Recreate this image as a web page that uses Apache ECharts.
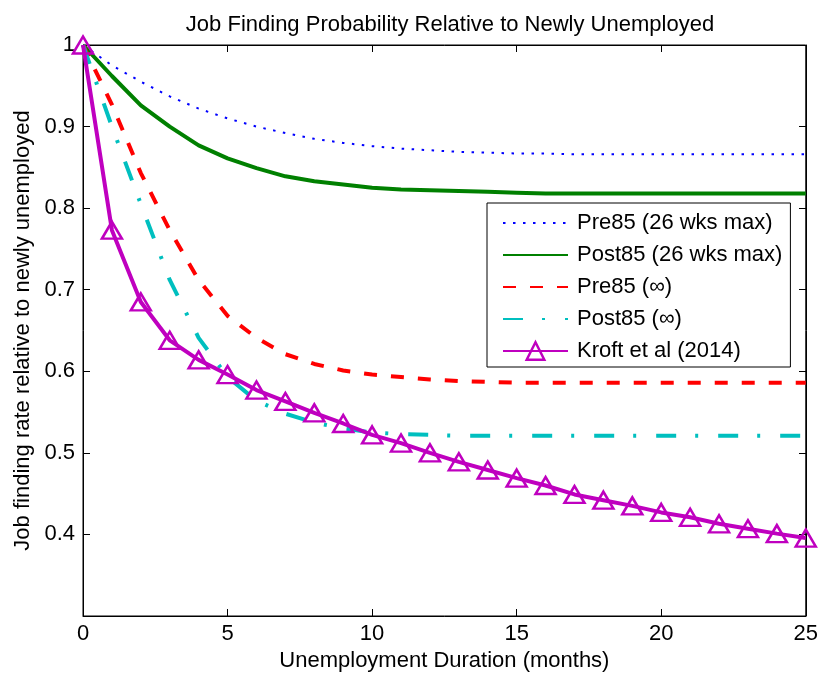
<!DOCTYPE html>
<html>
<head>
<meta charset="utf-8">
<script src="https://cdn.jsdelivr.net/npm/echarts@6/dist/echarts.min.js"></script>
<style>html,body{margin:0;padding:0;background:#fff}#c{width:821px;height:677px}</style>
</head>
<body>
<div id="c"></div>
<script>
const months = [0,1,2,3,4,5,6,7,8,9,10,11,12,13,14,15,16,17,18,19,20,21,22,23,24,25];
const pre85_26wks = [1.000,0.975,0.955,0.937,0.922,0.910,0.900,0.892,0.885,0.880,0.876,0.873,0.871,0.869,0.868,0.867,0.867,0.866,0.866,0.866,0.866,0.866,0.866,0.866,0.866,0.866];
const post85_26wks = [1.000,0.962,0.926,0.900,0.877,0.861,0.849,0.839,0.833,0.829,0.825,0.823,0.822,0.821,0.820,0.819,0.818,0.818,0.818,0.818,0.818,0.818,0.818,0.818,0.818,0.818];
const pre85_inf = [1.000,0.927,0.843,0.773,0.712,0.668,0.641,0.621,0.609,0.601,0.596,0.593,0.590,0.588,0.587,0.586,0.586,0.586,0.586,0.586,0.586,0.586,0.586,0.586,0.586,0.586];
const post85_inf = [1.000,0.900,0.805,0.712,0.641,0.593,0.564,0.548,0.537,0.530,0.525,0.523,0.522,0.521,0.521,0.521,0.521,0.521,0.521,0.521,0.521,0.521,0.521,0.521,0.521,0.521];
const kroft2014 = [1.000,0.773,0.685,0.638,0.614,0.596,0.577,0.563,0.549,0.536,0.522,0.512,0.500,0.489,0.479,0.469,0.460,0.449,0.442,0.435,0.427,0.421,0.413,0.407,0.401,0.3955];
const seriesNames = ['Pre85 (26 wks max)','Post85 (26 wks max)','Pre85 (\u221e)','Post85 (\u221e)','Kroft et al (2014)'];
const xTicks = [0,5,10,15,20,25];
const yTicks = [0.4,0.5,0.6,0.7,0.8,0.9,1];

const FONT = 'Liberation Sans';
const FS = 22;
const GRID = {left:83, right:15, top:45, bottom:61};
const pairs = arr => months.map((m,i)=>[m,arr[i]]);

const chart = echarts.init(document.getElementById('c'), null, {renderer:'canvas'});
const plotW = 821 - GRID.left - GRID.right;
const baseX = {type:'value', min:0, max:25, interval:5, splitLine:{show:false}};
const baseY = {type:'value', min:0.3, max:1, interval:0.1, splitLine:{show:false}};
const line = {show:true, lineStyle:{color:'#000', width:1}};
chart.setOption({
  animation:false,
  backgroundColor:'#fff',
  title:{text:'Job Finding Probability Relative to Newly Unemployed', left:445, top:9, textAlign:'center',
    textStyle:{fontFamily:FONT, fontSize:FS, fontWeight:'normal', color:'#000'}},
  grid:Object.assign({show:true, borderColor:'#000', borderWidth:1}, GRID),
  xAxis:[
    Object.assign({}, baseX, {position:'bottom', name:'Unemployment Duration (months)', nameLocation:'middle', nameGap:33,
      nameTextStyle:{fontFamily:FONT, fontSize:FS, color:'#000'},
      axisLine:line,
      axisTick:{show:true, inside:true, length:7, lineStyle:{color:'#000', width:1}},
      axisLabel:{fontFamily:FONT, fontSize:FS, color:'#000', margin:7,
        formatter:v=>xTicks.includes(v)?String(v):''}}),
    Object.assign({}, baseX, {position:'top',
      axisLine:line,
      axisTick:{show:true, inside:true, length:7, lineStyle:{color:'#000', width:1}},
      axisLabel:{show:false}})
  ],
  yAxis:[
    Object.assign({}, baseY, {position:'left', name:'Job finding rate relative to newly unemployed', nameLocation:'middle', nameGap:45,
      nameTextStyle:{fontFamily:FONT, fontSize:FS, color:'#000'},
      axisLine:line,
      axisTick:{show:true, inside:true, length:7, lineStyle:{color:'#000', width:1}},
      axisLabel:{fontFamily:FONT, fontSize:FS, color:'#000', margin:8,
        formatter:v=>{const r=Math.round(v*10)/10; return yTicks.includes(r)?String(r):'';}}}),
    Object.assign({}, baseY, {position:'left', offset:-plotW,
      axisLine:line,
      axisTick:{show:true, inside:false, length:7, lineStyle:{color:'#000', width:1}},
      axisLabel:{show:false}})
  ],
  legend:{
    orient:'vertical', left:487, top:203,
    backgroundColor:'#fff', borderColor:'#000', borderWidth:1,
    padding:[9,8,5,15], itemWidth:65, itemHeight:22, itemGap:10,
    textStyle:{fontFamily:FONT, fontSize:FS, color:'#000', lineHeight:22, padding:[0,0,0,4]},
    data:[
      {name:seriesNames[0], itemStyle:{opacity:0}},
      {name:seriesNames[1], itemStyle:{opacity:0}},
      {name:seriesNames[2], itemStyle:{opacity:0}},
      {name:seriesNames[3], itemStyle:{opacity:0}},
      {name:seriesNames[4], itemStyle:{borderWidth:2.5}}
    ]
  },
  series:[
    {name:seriesNames[0], type:'line', data:pairs(pre85_26wks), symbol:'none', z:2,
      lineStyle:{color:'#0000ff', width:2, type:[2.5,7.5]}, itemStyle:{color:'#0000ff'}},
    {name:seriesNames[1], type:'line', data:pairs(post85_26wks), symbol:'none', z:3,
      lineStyle:{color:'#008000', width:4, type:'solid'}, itemStyle:{color:'#008000'}},
    {name:seriesNames[2], type:'line', data:pairs(pre85_inf), symbol:'none', z:4,
      lineStyle:{color:'#ff0000', width:4, type:[13,14]}, itemStyle:{color:'#ff0000'}},
    {name:seriesNames[3], type:'line', data:pairs(post85_inf), symbol:'none', z:5,
      lineStyle:{color:'#00bfbf', width:4, type:[20,19,3,20]}, itemStyle:{color:'#00bfbf'}},
    {name:seriesNames[4], type:'line', data:pairs(kroft2014), symbol:'triangle', symbolSize:[20,17], z:6,
      lineStyle:{color:'#bf00bf', width:4}, itemStyle:{color:'rgba(255,255,255,0)', borderColor:'#bf00bf', borderWidth:2.5}}
  ]
});
</script>
</body>
</html>
